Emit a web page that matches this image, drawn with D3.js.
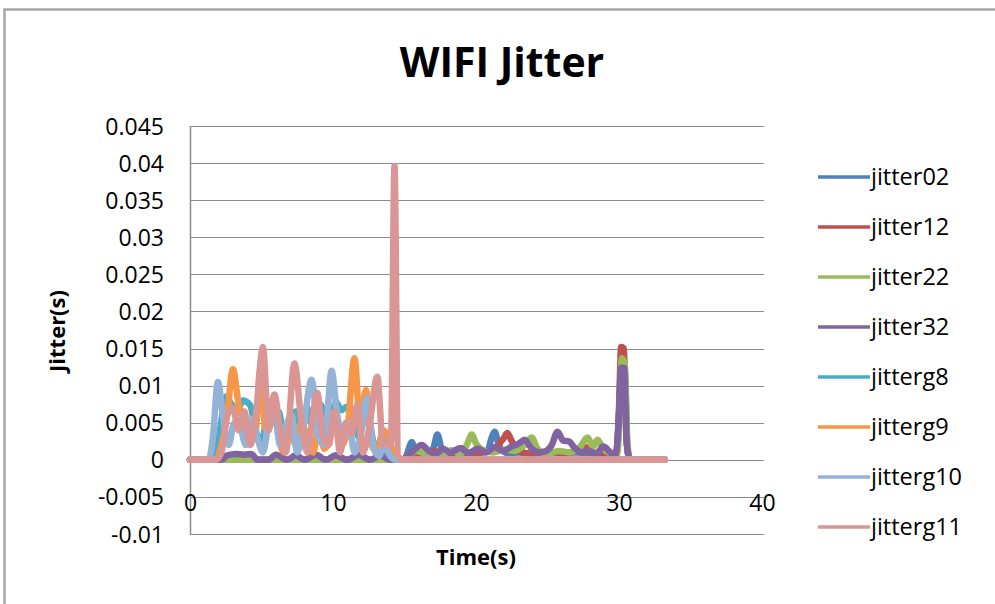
<!DOCTYPE html>
<html>
<head>
<meta charset="utf-8">
<script src="https://cdn.jsdelivr.net/npm/d3@7/dist/d3.min.js"></script>
<style>
  html, body { margin: 0; padding: 0; background: #fff; }
  svg { display: block; font-family: "Open Sans", "DejaVu Sans", sans-serif; }
</style>
</head>
<body>
<svg id="chart" width="995" height="604"></svg>
<script>
// ---- data ----------------------------------------------------------------
const seriesNames = ["jitter02", "jitter12", "jitter22", "jitter32", "jitterg8", "jitterg9", "jitterg10", "jitterg11"];
const seriesColors = ["#4F81BD", "#C0504D", "#9BBB59", "#8064A2", "#4BACC6", "#F79646", "#95B3D7", "#D99694"];

const xTicks = [0, 10, 20, 30, 40];
const yTicks = [-0.01, -0.005, 0, 0.005, 0.01, 0.015, 0.02, 0.025, 0.03, 0.035, 0.04, 0.045];

// jitter02
const time02 = [0, 15.0, 15.3, 15.5, 15.8, 16.5, 17.0, 17.3, 17.6, 18.2, 19.0, 20.0, 20.8, 21.1, 21.3, 21.6, 22.2, 23.0, 24.0, 25.0, 26.0, 27.0, 28.0, 29.0, 29.8, 30.0, 30.2, 30.4, 30.6, 30.8, 33.2];
const jitter02 = [0, 0, 0.0015, 0.0024, 0.001, 0.0008, 0.0015, 0.0034, 0.0015, 0.0006, 0.0009, 0.001, 0.0012, 0.003, 0.0038, 0.002, 0.0009, 0.001, 0.0008, 0.001, 0.0009, 0.001, 0.0009, 0.001, 0.0005, 0.006, 0.0125, 0.012, 0.001, 0, 0];

// jitter12
const time12 = [0, 15.0, 15.2, 16.0, 17.0, 18.0, 19.0, 20.0, 21.0, 21.9, 22.2, 22.5, 23.0, 24.0, 25.0, 26.0, 27.0, 27.6, 28.0, 29.0, 29.8, 30.0, 30.15, 30.35, 30.55, 30.8, 33.2];
const jitter12 = [0, 0, 0.0005, 0.0009, 0.0012, 0.0008, 0.001, 0.0009, 0.0012, 0.0028, 0.0036, 0.0025, 0.0012, 0.0008, 0.0011, 0.0009, 0.0012, 0.0018, 0.001, 0.0008, 0.0005, 0.007, 0.0152, 0.015, 0.002, 0, 0];

// jitter22
const time22 = [0, 15.0, 15.2, 15.8, 16.5, 17.2, 17.8, 18.3, 18.9, 19.4, 19.7, 20.0, 20.6, 21.2, 22.0, 22.7, 23.4, 23.9, 24.3, 25.0, 25.8, 26.5, 27.3, 27.8, 28.2, 28.5, 28.9, 29.5, 29.85, 30.05, 30.2, 30.4, 30.6, 30.8, 33.2];
const jitter22 = [0, 0, 0.0004, 0.0012, 0.0008, 0.0006, 0.0009, 0.0013, 0.0008, 0.0022, 0.0034, 0.0022, 0.0012, 0.001, 0.0014, 0.0012, 0.002, 0.003, 0.0015, 0.0008, 0.0012, 0.001, 0.0018, 0.003, 0.0018, 0.0027, 0.0015, 0.0008, 0.0006, 0.006, 0.0137, 0.013, 0.002, 0, 0];

// jitter32
const time32 = [0, 2.2, 2.6, 3.2, 3.8, 4.3, 4.7, 5.5, 6.0, 6.8, 7.4, 8.0, 8.8, 9.5, 10.2, 11.0, 11.8, 12.6, 13.3, 14.0, 14.8, 15.2, 15.6, 16.2, 16.7, 17.2, 17.7, 18.2, 18.9, 19.5, 20.1, 20.7, 21.3, 21.9, 22.5, 23.0, 23.4, 23.9, 24.4, 24.9, 25.3, 25.7, 26.1, 26.5, 26.9, 27.4, 27.9, 28.4, 28.9, 29.3, 29.7, 29.95, 30.15, 30.35, 30.55, 30.8, 33.2];
const jitter32 = [0, 0, 0.0006, 0.0008, 0.0007, 0.0008, 0, 0, 0.0007, 0, 0.0006, 0, 0.0007, 0, 0.0006, 0, 0.0007, 0, 0.0006, 0, 0, 0.0005, 0.0012, 0.002, 0.0012, 0.0008, 0.0015, 0.001, 0.0016, 0.0009, 0.0015, 0.001, 0.0017, 0.0012, 0.0018, 0.0022, 0.0027, 0.0015, 0.001, 0.0012, 0.002, 0.0038, 0.0026, 0.0025, 0.0016, 0.001, 0.0012, 0.0008, 0.0018, 0.0012, 0.0005, 0.004, 0.0124, 0.0124, 0.002, 0, 0];

// jitterg8
const timeG8 = [0, 1.7, 2.1, 2.5, 2.9, 3.3, 3.7, 4.2, 4.6, 5.0, 5.4, 5.8, 6.2, 6.6, 7.0, 7.4, 7.8, 8.2, 8.6, 9.0, 9.4, 9.8, 10.2, 10.6, 11.0, 11.4, 11.8, 12.2, 12.6, 13.0, 13.4, 13.8, 14.2, 14.6, 33.2];
const jitterG8 = [0, 0, 0.004, 0.0085, 0.0075, 0.0065, 0.008, 0.0074, 0.004, 0.002, 0.006, 0.005, 0.0065, 0.003, 0.005, 0.0065, 0.004, 0.007, 0.0045, 0.0077, 0.0065, 0.005, 0.0078, 0.0067, 0.0072, 0.0065, 0.003, 0.0055, 0.0045, 0.001, 0.003, 0.001, 0.0005, 0, 0];

// jitterg9
const timeG9 = [0, 1.8, 2.2, 2.6, 3.0, 3.4, 3.8, 4.2, 4.6, 4.9, 5.3, 5.8, 6.2, 6.6, 7.0, 7.4, 7.8, 8.2, 8.6, 9.0, 9.4, 9.8, 10.2, 10.6, 11.0, 11.5, 11.9, 12.3, 12.7, 13.1, 13.5, 13.9, 14.3, 14.7, 33.2];
const jitterG9 = [0, 0, 0.002, 0.006, 0.0122, 0.0075, 0.005, 0.003, 0.004, 0.012, 0.004, 0.0083, 0.003, 0.001, 0.004, 0.002, 0.005, 0.003, 0.001, 0.004, 0.0015, 0.003, 0.006, 0.002, 0.004, 0.0137, 0.005, 0.0094, 0.002, 0.001, 0.004, 0.003, 0.0005, 0, 0];

// jitterg10
const timeG10 = [0, 1.3, 1.6, 1.95, 2.3, 2.7, 3.1, 3.5, 3.9, 4.3, 4.7, 5.1, 5.5, 5.9, 6.3, 6.7, 7.1, 7.5, 7.9, 8.5, 9.0, 9.4, 9.9, 10.3, 10.7, 11.1, 11.5, 11.9, 12.4, 12.8, 13.2, 13.6, 14.0, 14.4, 14.8, 33.2];
const jitterG10 = [0, 0, 0.003, 0.0105, 0.006, 0.002, 0.005, 0.0045, 0.002, 0.0055, 0.003, 0.001, 0.005, 0.0065, 0.002, 0.0045, 0.006, 0.001, 0.004, 0.0108, 0.003, 0.002, 0.012, 0.006, 0.003, 0.005, 0.001, 0.003, 0.0083, 0.002, 0.0005, 0.002, 0.0005, 0, 0, 0];

// jitterg11
const timeG11 = [0, 1.8, 2.2, 2.6, 3.0, 3.4, 3.8, 4.2, 4.6, 5.1, 5.5, 5.9, 6.3, 6.7, 7.3, 7.8, 8.2, 8.6, 8.9, 9.3, 9.7, 10.1, 10.5, 10.9, 11.3, 11.7, 12.1, 12.5, 13.1, 13.5, 14.05, 14.3, 14.55, 14.9, 33.2];
const jitterG11 = [0, 0, 0.001, 0.006, 0.007, 0.004, 0.0065, 0.002, 0.006, 0.0152, 0.004, 0.0088, 0.004, 0.001, 0.013, 0.005, 0.001, 0.006, 0.009, 0.003, 0.002, 0.0065, 0.001, 0.005, 0.0035, 0.0075, 0.001, 0.004, 0.0112, 0.002, 0.002, 0.0396, 0.0005, 0, 0];

const seriesTimes = [time02, time12, time22, time32, timeG8, timeG9, timeG10, timeG11];
const seriesValues = [jitter02, jitter12, jitter22, jitter32, jitterG8, jitterG9, jitterG10, jitterG11];

// ---- layout --------------------------------------------------------------
const svg = d3.select("#chart");
const plot = { left: 190, right: 762, top: 126, bottom: 534 };

const x = d3.scaleLinear().domain([0, 40]).range([plot.left, plot.right]);
const y = d3.scaleLinear().domain([-0.01, 0.045]).range([plot.bottom, plot.top]);

// outer chart frame
svg.append("rect")
  .attr("x", 4.5).attr("y", 9.5)
  .attr("width", 1010).attr("height", 620)
  .attr("fill", "#fff")
  .attr("stroke", "#a6a6a6").attr("stroke-width", 2.5);

// horizontal gridlines
svg.append("g")
  .selectAll("line")
  .data(yTicks)
  .join("line")
  .attr("x1", plot.left).attr("x2", plot.right + 2)
  .attr("y1", d => Math.round(y(d)) + 0.5).attr("y2", d => Math.round(y(d)) + 0.5)
  .attr("stroke", "#8c8c8c").attr("stroke-width", 1.2);

// vertical axis line
svg.append("line")
  .attr("x1", plot.left + 0.5).attr("x2", plot.left + 0.5)
  .attr("y1", plot.top).attr("y2", plot.bottom + 1)
  .attr("stroke", "#8c8c8c").attr("stroke-width", 1.5);

// y tick labels (plain hyphen for negatives)
const yAxis = d3.axisLeft(y).tickValues(yTicks).tickSize(0).tickPadding(0)
  .tickFormat(d => String(+d.toFixed(4)));
const yg = svg.append("g").attr("transform", `translate(${plot.left - 26},0)`).call(yAxis);
yg.select(".domain").remove();
yg.selectAll("text")
  .attr("font-family", "Open Sans, sans-serif")
  .attr("font-size", 23).attr("fill", "#000").attr("dy", "0.35em");

// x tick labels (sit just under the -0.005 gridline)
const xAxis = d3.axisBottom(x).tickValues(xTicks).tickSize(0).tickPadding(0);
const xg = svg.append("g").attr("transform", `translate(0,${y(-0.005)})`).call(xAxis);
xg.select(".domain").remove();
xg.selectAll("text")
  .attr("font-family", "Open Sans, sans-serif")
  .attr("font-size", 23).attr("fill", "#000").attr("dy", "0.55em").attr("y", 1);

// series lines
const line = d3.line()
  .x(d => x(d[0]))
  .y(d => y(d[1]))
  .curve(d3.curveMonotoneX);

svg.append("g")
  .selectAll("path")
  .data(seriesNames.map((name, i) => ({
    name,
    color: seriesColors[i],
    points: seriesTimes[i].map((t, j) => [t, seriesValues[i][j]])
  })))
  .join("path")
  .attr("d", d => line(d.points))
  .attr("fill", "none")
  .attr("stroke", d => d.color)
  .attr("stroke-width", 6.5)
  .attr("stroke-linejoin", "round")
  .attr("stroke-linecap", "round");

// title
svg.append("text")
  .attr("x", 502).attr("y", 77)
  .attr("text-anchor", "middle")
  .attr("font-family", "Open Sans, sans-serif")
  .attr("font-weight", "bold").attr("font-size", 41)
  .attr("fill", "#000")
  .text("WIFI Jitter");

// axis titles
svg.append("text")
  .attr("x", 476).attr("y", 565)
  .attr("text-anchor", "middle")
  .attr("font-family", "Open Sans, sans-serif")
  .attr("font-weight", "bold").attr("font-size", 22)
  .attr("fill", "#000")
  .text("Time(s)");

svg.append("text")
  .attr("transform", "translate(65,331) rotate(-90)")
  .attr("text-anchor", "middle")
  .attr("font-family", "Open Sans, sans-serif")
  .attr("font-weight", "bold").attr("font-size", 22)
  .attr("fill", "#000")
  .text("Jitter(s)");

// legend
const legend = svg.append("g")
  .selectAll("g")
  .data(seriesNames)
  .join("g")
  .attr("transform", (d, i) => `translate(818,${177 + i * 50})`);

legend.append("line")
  .attr("x1", 0).attr("x2", 52)
  .attr("stroke", (d, i) => seriesColors[i])
  .attr("stroke-width", 3.5);

legend.append("text")
  .attr("x", 53).attr("dy", "0.35em")
  .attr("font-family", "Open Sans, sans-serif")
  .attr("font-size", 23.5).attr("fill", "#000")
  .text(d => d);
</script>
</body>
</html>
